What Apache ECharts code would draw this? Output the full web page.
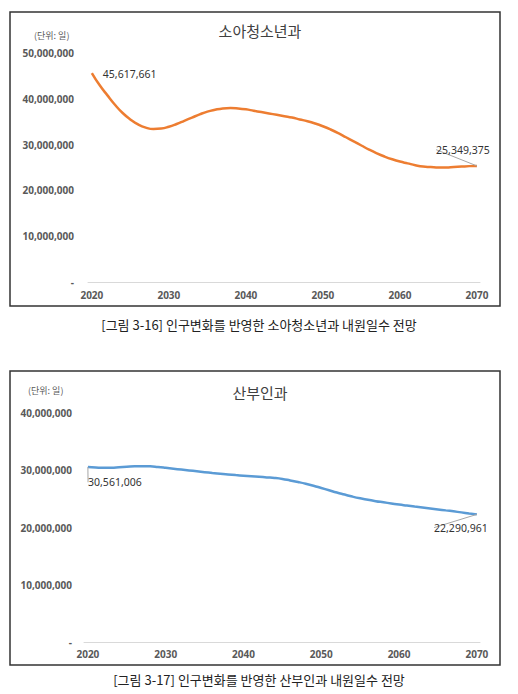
<!DOCTYPE html>
<html>
<head>
<meta charset="utf-8">
<script src="https://cdn.jsdelivr.net/npm/echarts@6/dist/echarts.min.js"></script>
<style>
  html, body { margin: 0; padding: 0; background: #fff; }
  #chart { width: 518px; height: 694px; }
</style>
</head>
<body>
<div id="chart"></div>
<script>
// 연도 (x축)
const years = [
  2020, 2021, 2022, 2023, 2024, 2025, 2026, 2027, 2028, 2029,
  2030, 2031, 2032, 2033, 2034, 2035, 2036, 2037, 2038, 2039,
  2040, 2041, 2042, 2043, 2044, 2045, 2046, 2047, 2048, 2049,
  2050, 2051, 2052, 2053, 2054, 2055, 2056, 2057, 2058, 2059,
  2060, 2061, 2062, 2063, 2064, 2065, 2066, 2067, 2068, 2069,
  2070
]
const yearTicks = [2020, 2030, 2040, 2050, 2060, 2070]

// 소아청소년과 내원일수
const pediatrics = [
  45617661, 43000000, 40800000, 38700000, 36900000, 35500000, 34400000, 33700000, 33400000, 33500000,
  33900000, 34500000, 35200000, 35900000, 36600000, 37200000, 37600000, 37900000, 38000000, 37900000,
  37700000, 37400000, 37100000, 36800000, 36500000, 36200000, 35900000, 35500000, 35100000, 34600000,
  34000000, 33300000, 32500000, 31600000, 30700000, 29800000, 28900000, 28100000, 27400000, 26800000,
  26300000, 25900000, 25500000, 25200000, 25100000, 25000000, 25000000, 25100000, 25200000, 25300000,
  25349375
]

// 산부인과 내원일수
const obgyn = [
  30561006, 30480000, 30420000, 30450000, 30520000, 30600000, 30680000, 30720000, 30680000, 30560000,
  30420000, 30270000, 30120000, 29970000, 29820000, 29670000, 29520000, 29380000, 29260000, 29150000,
  29050000, 28950000, 28850000, 28750000, 28650000, 28480000, 28220000, 27950000, 27650000, 27300000,
  26900000, 26500000, 26100000, 25750000, 25400000, 25100000, 24850000, 24600000, 24400000, 24200000,
  24000000, 23830000, 23660000, 23500000, 23330000, 23160000, 22990000, 22820000, 22640000, 22460000,
  22290961
]

// y축 눈금
const yMax1 = 50000000
const yMax2 = 40000000
const yStep = 10000000

const labelFont = 'Noto Sans, "Noto Sans CJK KR", sans-serif'
const cjkFont = '"Noto Sans CJK KR", sans-serif'

const fmt = (v) => (v === 0 ? '-' : v.toLocaleString('en-US'))

// 끝점 레이블 이동량 [첫 점, 마지막 점]
const labelShift = [
  [{ position: 'right', dx: 6, dy: 1, line: false }, { position: 'top', dx: -14, dy: -6, line: true }],
  [{ position: 'bottom', dx: 27, dy: 5, line: true }, { position: 'bottom', dx: -16, dy: 3, line: true }]
]

// 끝점에만 데이터 레이블
function buildData(values, shifts) {
  return values.map((v, i) => {
    const item = { value: [years[i], v] }
    if (i === 0 || i === values.length - 1) {
      const cfg = i === 0 ? shifts[0] : shifts[1]
      item.label = {
        show: true,
        formatter: fmt(v),
        position: cfg.position,
        fontFamily: labelFont,
        fontSize: 10.5,
        fontWeight: 'normal',
        color: '#333'
      }
      item.labelLine = {
        show: cfg.line,
        lineStyle: { color: '#a6a6a6', width: 1 }
      }
    }
    return item
  })
}

function moveLabel(params) {
  const shifts = labelShift[params.seriesIndex]
  const cfg = params.dataIndex === 0 ? shifts[0] : shifts[1]
  return { dx: cfg.dx, dy: cfg.dy }
}

function xAxis(gridIndex, margin) {
  return {
    type: 'value',
    gridIndex,
    min: 2019.5,
    max: 2070.4,
    axisLine: { show: true, lineStyle: { color: '#d9d9d9', width: 1 } },
    axisTick: { show: false },
    splitLine: { show: false },
    axisLabel: {
      customValues: yearTicks,
      formatter: (v) => String(v),
      margin,
      fontFamily: labelFont,
      fontSize: 10,
      fontWeight: 'bold',
      color: '#595959'
    }
  }
}

function yAxis(gridIndex, max, margin) {
  return {
    type: 'value',
    gridIndex,
    min: 0,
    max,
    interval: yStep,
    axisLine: { show: false },
    axisTick: { show: false },
    splitLine: { show: false },
    axisLabel: {
      formatter: fmt,
      margin,
      fontFamily: labelFont,
      fontSize: 10,
      fontWeight: 'bold',
      color: '#595959'
    }
  }
}

function lineSeries(name, idx, values, color) {
  return {
    name,
    type: 'line',
    xAxisIndex: idx,
    yAxisIndex: idx,
    smooth: true,
    showSymbol: true,
    symbol: 'circle',
    symbolSize: 0,
    lineStyle: { color, width: 2.5 },
    itemStyle: { color },
    labelLayout: moveLabel,
    data: buildData(values, labelShift[idx])
  }
}

const chart = echarts.init(document.getElementById('chart'), null, { renderer: 'svg' })

chart.setOption({
  animation: false,
  backgroundColor: '#fff',
  title: [
    { text: '소아청소년과', left: 255, top: 18, textAlign: 'center',
      textStyle: { fontFamily: cjkFont, fontSize: 15, fontWeight: 'normal', color: '#404040' } },
    { text: '(단위: 일)', left: 29, top: 26,
      textStyle: { fontFamily: cjkFont, fontSize: 9, fontWeight: 'normal', color: '#595959' } },
    { text: '[그림 3-16] 인구변화를 반영한 소아청소년과 내원일수 전망', left: 254, top: 313, textAlign: 'center',
      textStyle: { fontFamily: cjkFont, fontSize: 13, fontWeight: 'normal', color: '#222' } },
    { text: '산부인과', left: 255, top: 380, textAlign: 'center',
      textStyle: { fontFamily: cjkFont, fontSize: 15, fontWeight: 'normal', color: '#404040' } },
    { text: '(단위: 일)', left: 23, top: 381,
      textStyle: { fontFamily: cjkFont, fontSize: 9, fontWeight: 'normal', color: '#595959' } },
    { text: '[그림 3-17] 인구변화를 반영한 산부인과 내원일수 전망', left: 254, top: 668, textAlign: 'center',
      textStyle: { fontFamily: cjkFont, fontSize: 13, fontWeight: 'normal', color: '#222' } }
  ],
  graphic: [
    { type: 'rect', shape: { x: 10, y: 12, width: 490, height: 294 },
      style: { fill: 'none', stroke: '#333', lineWidth: 1.5 } },
    { type: 'rect', shape: { x: 10, y: 371, width: 490, height: 294 },
      style: { fill: 'none', stroke: '#333', lineWidth: 1.5 } }
  ],
  grid: [
    { left: 88, right: 38, top: 53, bottom: 412 },
    { left: 84, right: 38, top: 413, bottom: 52 }
  ],
  xAxis: [xAxis(0, 8), xAxis(1, 7)],
  yAxis: [yAxis(0, yMax1, 14), yAxis(1, yMax2, 12)],
  series: [
    lineSeries('소아청소년과', 0, pediatrics, '#ED7D31'),
    lineSeries('산부인과', 1, obgyn, '#5B9BD5')
  ]
})

window.addEventListener('resize', () => chart.resize())
</script>
</body>
</html>
